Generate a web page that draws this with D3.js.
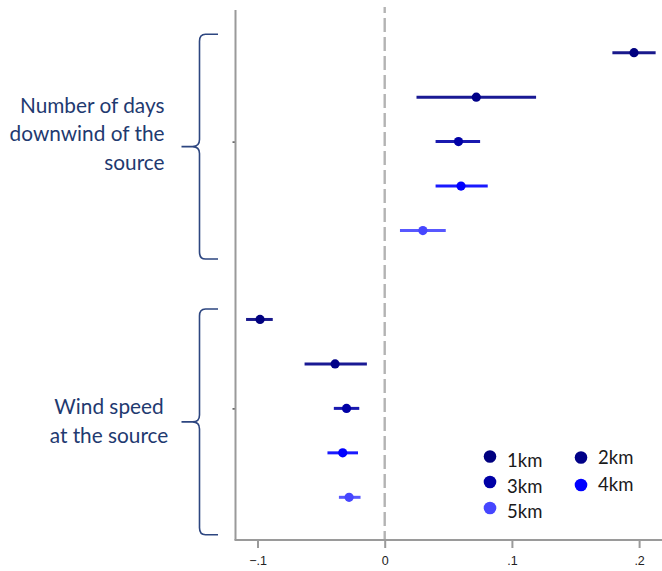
<!DOCTYPE html>
<html>
<head>
<meta charset="utf-8">
<script src="https://cdn.jsdelivr.net/npm/d3@7"></script>
<style>
  html, body { margin: 0; padding: 0; background: #fff; }
  svg { display: block; }
  .x-axis .tick text { font-family: "Liberation Sans", Arial, sans-serif; font-size: 12.5px; fill: #222; }
</style>
</head>
<body>
<svg id="chart" width="662" height="571"></svg>
<script>
// Buffer distances shown as series
const distances = ["1km", "2km", "3km", "4km", "5km"];
const seriesColors = ["#00007f", "#000088", "#0000a6", "#0000ff", "#4646ff"];

// Outcome groups (label lines)
const groupLines = [
  ["Number of days", "downwind of the", "source"],
  ["Wind speed", "at the source"]
];

// Point estimates and 95% confidence bounds, one entry per distance
const downwindEst = [0.196, 0.072, 0.058, 0.060, 0.030];
const downwindLo  = [0.179, 0.025, 0.040, 0.040, 0.012];
const downwindHi  = [0.213, 0.119, 0.075, 0.081, 0.048];

const windEst = [-0.098, -0.039, -0.030, -0.033, -0.028];
const windLo  = [-0.109, -0.063, -0.040, -0.045, -0.036];
const windHi  = [-0.088, -0.014, -0.020, -0.021, -0.019];

const xTicks = [-0.1, 0, 0.1, 0.2];

// Build row records: group 0 uses rows 0-4, group 1 uses rows 6-10
const rows = [];
[[downwindEst, downwindLo, downwindHi], [windEst, windLo, windHi]].forEach(([est, lo, hi], g) => {
  distances.forEach((d, i) => {
    rows.push({ group: g, dist: d, idx: i, row: g * 6 + i, est: est[i], lo: lo[i], hi: hi[i] });
  });
});

const svg = d3.select("#chart");
const plotTop = 10, plotBottom = 540, plotLeft = 235.5, plotRight = 662;

const x = d3.scaleLinear().domain([-0.1173, 0.218]).range([plotLeft, plotRight]);
const y = d3.scalePoint().domain(d3.range(11)).range([plotTop, plotBottom]).padding(0.96);
const color = d3.scaleOrdinal().domain(distances).range(seriesColors);

// Zero reference line
svg.append("line")
  .attr("x1", x(0)).attr("x2", x(0))
  .attr("y1", plotTop - 3).attr("y2", plotBottom)
  .attr("stroke", "#b3b3b3").attr("stroke-width", 2.4)
  .attr("stroke-dasharray", "14,5")
  .attr("stroke-dashoffset", 8);

// Bottom axis
const xAxis = d3.axisBottom(x)
  .tickValues(xTicks)
  .tickSize(8)
  .tickPadding(8)
  .tickFormat(v => v === 0 ? "0" : d3.format(".1f")(v).replace("0.", "."));

const gx = svg.append("g")
  .attr("class", "x-axis")
  .attr("transform", `translate(0,${plotBottom})`)
  .call(xAxis);
gx.attr("font-size", null).attr("font-family", null);
gx.select(".domain").remove();
gx.append("line")
  .attr("x1", plotLeft - 1).attr("x2", plotRight)
  .attr("y1", 0).attr("y2", 0)
  .attr("stroke", "#9a9a9a").attr("stroke-width", 2);
gx.selectAll(".tick line").attr("stroke", "#9a9a9a").attr("stroke-width", 2);

// Left axis with one tick per group centre
const yAxis = d3.axisLeft(y)
  .tickValues([2, 8])
  .tickSize(3)
  .tickFormat("");
const gy = svg.append("g")
  .attr("transform", `translate(${plotLeft},0)`)
  .call(yAxis);
gy.select(".domain").remove();
gy.append("line")
  .attr("x1", 0).attr("x2", 0)
  .attr("y1", plotTop).attr("y2", plotBottom)
  .attr("stroke", "#9a9a9a").attr("stroke-width", 2);
gy.selectAll(".tick line").attr("stroke", "#555").attr("stroke-width", 1.5);

// Confidence intervals
svg.append("g").selectAll("line")
  .data(rows)
  .join("line")
  .attr("x1", d => x(d.lo)).attr("x2", d => x(d.hi))
  .attr("y1", d => y(d.row)).attr("y2", d => y(d.row))
  .attr("stroke", d => color(d.dist))
  .attr("stroke-width", 3)
  .attr("stroke-opacity", 0.9);

// Point estimates
svg.append("g").selectAll("circle")
  .data(rows)
  .join("circle")
  .attr("cx", d => x(d.est))
  .attr("cy", d => y(d.row))
  .attr("r", 4.6)
  .attr("fill", d => color(d.dist));

// Group braces and labels
const labelColor = "#1f3a70";
const braceSpineX = 199.5, braceTipX = 181.5, braceEndX = 218;

function bracePath(top, bottom) {
  const mid = (top + bottom) / 2;
  const s = braceSpineX, t = braceTipX, e = braceEndX;
  return `M${e},${top} L${s + 6},${top} Q${s},${top} ${s},${top + 7}` +
    ` L${s},${mid - 7} Q${s},${mid} ${s - 7},${mid} L${t},${mid}` +
    ` M${s - 7},${mid} Q${s},${mid} ${s},${mid + 7}` +
    ` L${s},${bottom - 7} Q${s},${bottom} ${s + 6},${bottom} L${e},${bottom}`;
}

const braceSpans = [
  { top: y(0) - 18.5, bottom: y(4) + 28.5 },
  { top: y(6) - 10.5, bottom: y(10) + 37.5 }
];

braceSpans.forEach(b => {
  svg.append("path")
    .attr("d", bracePath(b.top, b.bottom))
    .attr("fill", "none")
    .attr("stroke", "#2d4680")
    .attr("stroke-width", 1.6);
});

const labelFont = "Lato, 'Open Sans', sans-serif";
// First group: right-aligned block
svg.append("text")
  .attr("font-family", labelFont).attr("font-size", 20.8)
  .attr("fill", labelColor).attr("text-anchor", "end")
  .selectAll("tspan")
  .data(groupLines[0])
  .join("tspan")
  .attr("x", 164.5)
  .attr("y", (d, i) => 112.5 + i * 28.5)
  .text(d => d);

// Second group: centred block
svg.append("text")
  .attr("font-family", labelFont).attr("font-size", 20.8)
  .attr("fill", labelColor).attr("text-anchor", "middle")
  .selectAll("tspan")
  .data(groupLines[1])
  .join("tspan")
  .attr("x", 109)
  .attr("y", (d, i) => 413.5 + i * 29)
  .text(d => d);

// Legend
const legendItems = [
  { dist: "1km", cx: 490, cy: 456.5, ty: 461 },
  { dist: "2km", cx: 581, cy: 457.5, ty: 458 },
  { dist: "3km", cx: 490, cy: 482, ty: 487 },
  { dist: "4km", cx: 581, cy: 485, ty: 484.5 },
  { dist: "5km", cx: 490, cy: 508, ty: 512 }
];
const legend = svg.append("g");
legend.selectAll("circle")
  .data(legendItems)
  .join("circle")
  .attr("cx", d => d.cx).attr("cy", d => d.cy)
  .attr("r", 6.3)
  .attr("fill", d => color(d.dist));
legend.selectAll("text")
  .data(legendItems)
  .join("text")
  .attr("x", d => d.cx + 17)
  .attr("y", d => d.ty)
  .attr("dy", "0.35em")
  .attr("font-family", labelFont)
  .attr("font-size", 18.5)
  .attr("fill", "#1a1a1a")
  .text(d => d.dist);
</script>
</body>
</html>
